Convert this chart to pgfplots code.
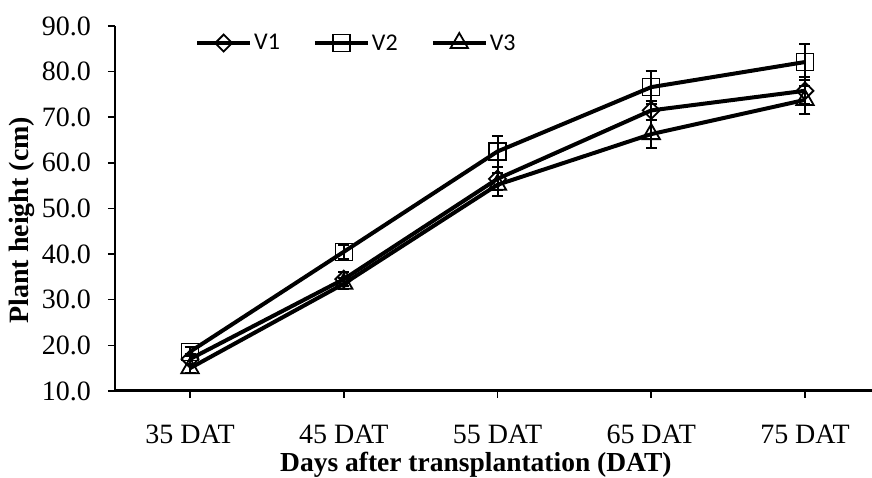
\documentclass[border=0pt]{standalone}
\usepackage{pgfplots}
\pgfplotsset{compat=1.18}
\usepackage{fontspec}
\setmainfont{Liberation Serif}
\newfontfamily\calibri{Carlito}

\pgfplotstableread{
x y e
0 17.0 1.0
1 34.5 1.5
2 56.5 2.5
3 71.5 2.0
4 75.8 3.0
}\vone
\pgfplotstableread{
x y e
0 18.6 1.0
1 40.5 1.5
2 62.5 3.3
3 76.6 3.6
4 82.1 4.0
}\vtwo
\pgfplotstableread{
x y e
0 15.0 1.0
1 33.5 1.2
2 55.2 2.5
3 66.3 3.0
4 73.8 3.0
}\vthree

\begin{document}
\begin{tikzpicture}
\begin{axis}[
  scale only axis,
  width=757pt, height=365pt,
  xmin=-0.488, xmax=4.436,
  ymin=10, ymax=90,
  axis x line=bottom, axis y line=left,
  x axis line style={-, line width=3pt},
  y axis line style={-, line width=2pt},
  xtick={0,1,2,3,4},
  xticklabels={35 DAT,45 DAT,55 DAT,65 DAT,75 DAT},
  ytick={10,20,30,40,50,60,70,80,90},
  tick align=outside,
  major tick length=7pt,
  tick style={line width=1.5pt, black},
  yticklabel style={/pgf/number format/fixed, /pgf/number format/fixed zerofill,
    /pgf/number format/precision=1, /pgf/number format/assume math mode=true},
  ticklabel style={font=\fontsize{28}{32}\selectfont},
  xticklabel style={anchor=north, inner sep=0pt, yshift=-27pt},
  yticklabel style={anchor=east, inner sep=0pt, xshift=-17pt},
  xlabel={\fontsize{27.5}{32}\selectfont\bfseries Days after transplantation (DAT)},
  xlabel style={at={(rel axis cs:0.218,-0.2219)}, anchor=base west, inner sep=0pt},
  ylabel={\fontsize{28}{32}\selectfont\bfseries Plant height (cm)},
  ylabel style={at={(rel axis cs:-0.1229,0.468)}, anchor=center, inner sep=0pt},
  legend style={at={(rel axis cs:0.1057,0.9534)}, anchor=west, draw=none, fill=none,
    font=\calibri\fontsize{24}{28}\selectfont, inner sep=0pt,
    nodes={inner sep=2pt},
    /tikz/every even column/.append style={column sep=31pt}},
  legend columns=3,
  legend cell align=left,
  legend image code/.code={\draw[mark repeat=2,mark phase=2,#1] plot coordinates {(0pt,0pt) (26.5pt,0pt) (53pt,0pt)};},
  error bars/error bar style={line width=2pt, black},
  error bars/error mark options={rotate=90, mark size=5.5pt, line width=2pt, black},
]
\addplot[black, line width=4pt, mark=square, mark size=6pt, mark options={rotate=45, fill=white, draw=black, line width=1.8pt, solid},
  error bars/.cd, y dir=both, y explicit]
  table[x=x, y=y, y error=e]{\vone};
\addlegendentry{V1}
\addplot[black, line width=4pt, mark=square, mark size=8.5pt, mark options={fill=white, draw=black, line width=1.5pt, solid},
  error bars/.cd, y dir=both, y explicit]
  table[x=x, y=y, y error=e]{\vtwo};
\addlegendentry{V2}
\addplot[black, line width=4pt, mark=triangle, mark size=10pt, mark options={fill=white, draw=black, line width=1.8pt, solid},
  error bars/.cd, y dir=both, y explicit]
  table[x=x, y=y, y error=e]{\vthree};
\addlegendentry{V3}
\coordinate (sw) at (rel axis cs:0,0);
\coordinate (ne) at (rel axis cs:1,1);
\end{axis}
\pgfresetboundingbox
\useasboundingbox ([shift={(-115pt,-87pt)}]sw) rectangle ([shift={(0pt,26pt)}]ne);
\end{tikzpicture}
\end{document}
